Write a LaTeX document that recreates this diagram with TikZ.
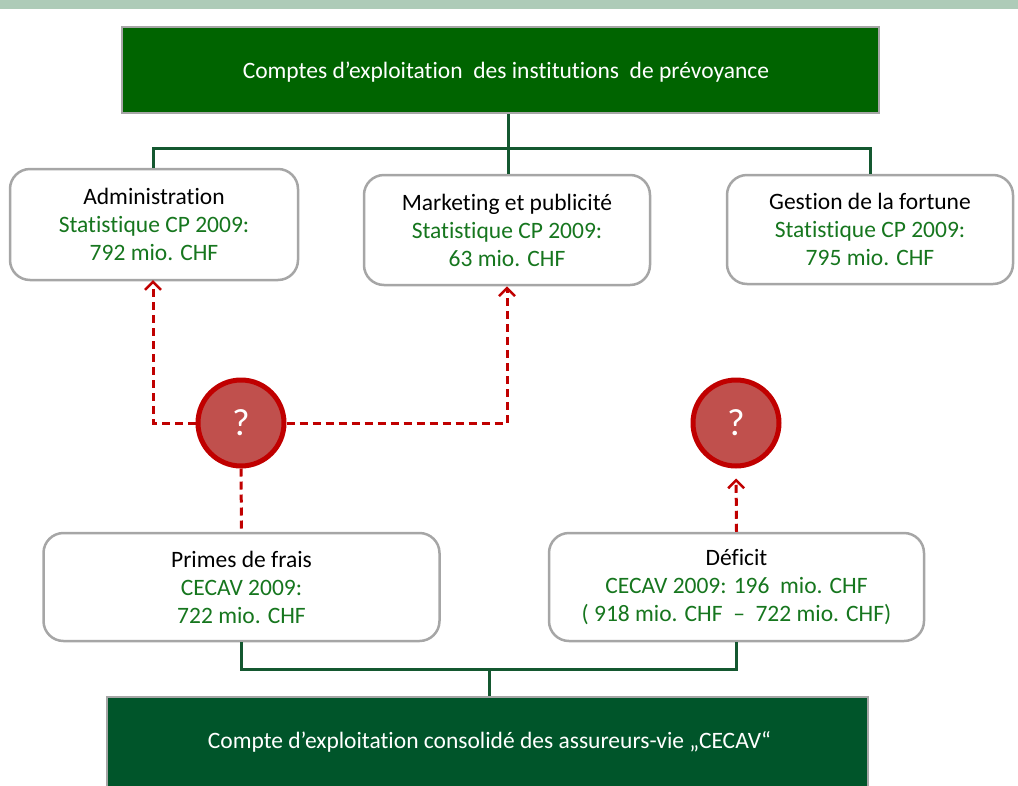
\documentclass[tikz,border=0pt]{standalone}
\usepackage{fontspec}
\setmainfont{Carlito}[Ligatures=NoCommon]
\usetikzlibrary{arrows.meta}
\definecolor{band}{RGB}{174,203,184}
\definecolor{topgreen}{RGB}{0,100,0}
\definecolor{botgreen}{RGB}{0,85,42}
\definecolor{linkgreen}{RGB}{20,88,48}
\definecolor{valgreen}{RGB}{22,118,30}
\definecolor{boxgray}{RGB}{166,166,166}
\definecolor{qfill}{RGB}{192,80,77}
\definecolor{qring}{RGB}{192,0,0}
\tikzset{
  headbox/.style={rectangle, draw=boxgray, line width=2pt, text=white,
    font=\fontsize{23.5}{28}\selectfont, inner sep=0pt},
  infobox/.style={rectangle, rounded corners=20pt, draw=boxgray, line width=2.5pt,
    fill=white, align=center, inner sep=0pt, font=\fontsize{23.5}{28}\selectfont},
  qmark/.style={circle, draw=qring, fill=qfill, line width=5pt, minimum size=86pt,
    inner sep=0pt, text=white, font=\fontsize{38}{40}\selectfont},
  link/.style={draw=linkgreen, line width=3pt},
  guess/.style={draw=qring, line width=3pt, dash pattern=on 8pt off 5pt},
  guessarrow/.style={guess, -{Straight Barb[length=8pt,width=16pt,line width=2.5pt]}},
}
\newcommand{\val}[1]{\textcolor{valgreen}{#1}}
\begin{document}
\begin{tikzpicture}[x=1pt,y=-1pt]
  \useasboundingbox (0,0) rectangle (1018,785);
  % header band
  \fill[band] (0,0) rectangle (1018,9);

  % source and target accounts
  \node[headbox, fill=topgreen, minimum width=757pt, minimum height=86pt] (top)
    at (500.5,70) {};
  \node[text=white, font=\fontsize{23.5}{28}\selectfont] (toptext) at (506,72)
    {Comptes d’exploitation~ des institutions~ de prévoyance};
  \begin{scope}
    \clip (0,0) rectangle (1018,785);
    \node[headbox, fill=botgreen, minimum width=761pt, minimum height=100pt] (cecav)
      at (487.5,747) {};
  \end{scope}
  \node[text=white, font=\fontsize{23.5}{28}\selectfont] (cecavtext) at (489.5,742)
    {Compte d’exploitation consolidé des assureurs-vie „CECAV“};

  % cost categories
  \node[infobox, minimum width=288pt, minimum height=111pt] (adm) at (154,224.5)
    {Administration\\ \val{Statistique CP 2009:}\\ \val{792 mio. CHF}};
  \node[infobox, minimum width=286pt, minimum height=110pt] (mkt) at (507,230)
    {Marketing et publicité\\ \val{Statistique CP 2009:}\\ \val{63 mio. CHF}};
  \node[infobox, minimum width=286pt, minimum height=109pt] (ges) at (870,229.5)
    {Gestion de la fortune\\ \val{Statistique CP 2009:}\\ \val{795 mio. CHF}};

  \node[infobox, minimum width=396pt, minimum height=108pt] (pri) at (241.5,587)
    {Primes de frais\\ \val{CECAV 2009:}\\ \val{722 mio. CHF}};
  \node[infobox, minimum width=375pt, minimum height=108pt] (def) at (736.5,587)
    {Déficit\\ \val{CECAV 2009: 196~ mio. CHF}\\ \val{( 918 mio. CHF~ –~ 722 mio. CHF)}};

  % open questions
  \node[qmark] (q1) at (241,423) {?};
  \node[qmark] (q2) at (736,423) {?};

  % tree links
  \coordinate (tj) at (508,148);
  \coordinate (bj) at (489,669);
  \draw[link] (tj |- top.south) -- (tj) -- (tj |- mkt.north);
  \draw[link] (adm.north -| 153,0) |- (tj) -| (ges.north);
  \draw[link] (pri.south) |- (bj) -| (def.south);
  \draw[link] (bj) -- (bj |- cecav.north);

  % assumed allocations
  \draw[guessarrow] (q1.west) -| (153,280);
  \draw[guessarrow] (q1.east) -| (mkt.south);
  \draw[guess] (q1.south) -- (pri.north);
  \draw[guessarrow, shorten >=10pt] (def.north) -- (q2.south);
\end{tikzpicture}
\end{document}
